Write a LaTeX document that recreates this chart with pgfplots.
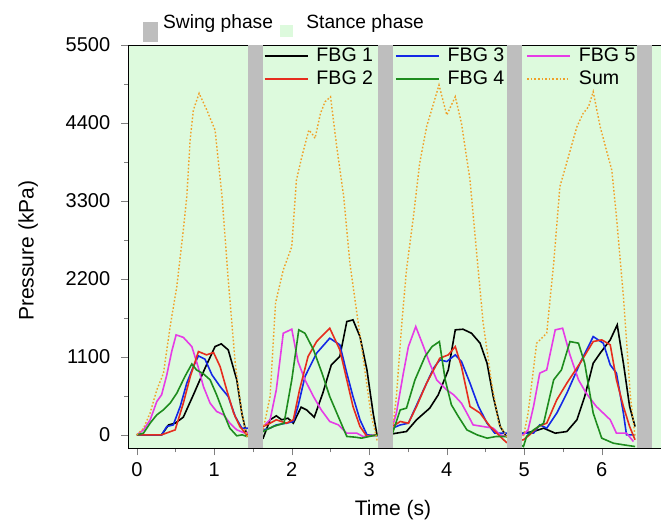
\documentclass[border=0pt]{standalone}
\usepackage{fontspec}
\setmainfont{Liberation Sans}
\usepackage{pgfplots}
\pgfplotsset{compat=1.18}

\definecolor{stancegreen}{RGB}{221,250,221}
\definecolor{swinggray}{RGB}{190,190,190}
\definecolor{fbgblue}{RGB}{20,40,230}
\definecolor{fbgred}{RGB}{230,45,30}
\definecolor{fbggreen}{RGB}{30,140,30}
\definecolor{fbgmag}{RGB}{230,60,230}
\definecolor{sumorange}{RGB}{240,160,40}

\begin{document}
\begin{tikzpicture}
\begin{axis}[
  scale only axis,
  width=266.35pt, height=201.65pt,
  xmin=-0.11, xmax=6.765,
  ymin=-190, ymax=5500,
  axis background/.style={fill=stancegreen},
  axis y line*=left,
  xtick pos=left,
  tick align=outside,
  major tick length=3.5pt, minor tick length=2pt,
  xtick={0,...,6}, minor x tick num=1,
  ytick={0,1100,2200,3300,4400,5500}, minor y tick num=1,
  /pgf/number format/assume math mode=true,
  /pgf/number format/1000 sep={},
  tick label style={font=\fontsize{10}{12}\selectfont},
  yticklabel style={xshift=-2pt},
  label style={font=\fontsize{10.5}{12}\selectfont},
  xlabel={Time (s)}, ylabel={Pressure (kPa)},
  xlabel style={at={(axis description cs:0.497,0)}, anchor=center, yshift=-31pt},
  ylabel style={at={(axis description cs:-0.1877,0.49)}, anchor=center},
  legend columns=3,
  legend cell align=left,
  legend image code/.code={\draw[#1, line width=0.8pt] (0pt,0pt) -- (21.5pt,0pt);},
  legend style={draw=none, fill=none, at={(rel axis cs:0.25,1.0)}, anchor=north west, yshift=1.75pt,
    font=\fontsize{9.8}{12}\selectfont, inner sep=1pt, row sep=-1pt,
    /tikz/every odd column/.append style={column sep=2pt},
    /tikz/every even column/.append style={column sep=9pt}},
  every axis plot/.append style={line width=0.8pt},
]
% FBG 1
\addplot[black] coordinates {
 (0,0) (0.32,0) (0.41,140) (0.495,164) (0.6,249) (0.73,564) (0.88,940) (1.01,1246) (1.09,1283) (1.18,1198) (1.29,776) (1.355,306) (1.42,-14)
 (1.63,-47) (1.72,212) (1.8,268) (1.87,212) (1.95,235) (2.02,164) (2.12,390) (2.19,352) (2.29,249) (2.4,587) (2.51,987) (2.62,1105) (2.71,1598) (2.79,1622) (2.88,1386) (2.97,916) (3.05,306) (3.1,0)
 (3.30,14) (3.48,47) (3.61,212) (3.78,376) (3.89,564) (4.02,916) (4.11,1481) (4.21,1490) (4.32,1433) (4.43,1293) (4.52,1010) (4.6,540) (4.69,117) (4.77,-23)
 (4.99,23) (5.12,47) (5.25,94) (5.4,23) (5.55,47) (5.68,212) (5.78,540) (5.89,1010) (5.98,1152) (6.11,1340) (6.2,1551) (6.28,1010) (6.36,400) (6.43,117)
};
\addlegendentry{FBG 1}
% FBG 3
\addplot[fbgblue] coordinates {
 (0,0) (0.32,0) (0.387,117) (0.47,140) (0.56,400) (0.645,729) (0.73,963) (0.795,1114) (0.88,1067) (0.97,846) (1.075,681) (1.18,540) (1.27,258) (1.355,94) (1.42,94)
 (1.63,70) (1.72,94) (1.8,140) (1.93,164) (2.02,188) (2.08,400) (2.17,822) (2.32,1152) (2.49,1363) (2.62,1270) (2.71,870) (2.79,540) (2.88,212) (2.97,0) (3.1,-14)
 (3.30,94) (3.40,140) (3.505,164) (3.70,634) (3.83,940) (3.91,1057) (4.0,1034) (4.11,1128) (4.19,1034) (4.3,729) (4.41,400) (4.52,164) (4.62,23) (4.77,23)
 (4.99,23) (5.12,23) (5.2,140) (5.29,94) (5.42,306) (5.55,587) (5.72,1010) (5.89,1386) (6.02,1293) (6.11,987) (6.19,870) (6.28,306) (6.32,0) (6.43,0)
};
\addlegendentry{FBG 3}
% FBG 5
\addplot[fbgmag] coordinates {
 (0,0) (0.086,70) (0.172,210) (0.258,470) (0.32,565) (0.387,845) (0.45,1175) (0.507,1410) (0.6,1375) (0.71,1245) (0.79,963) (0.86,680) (0.946,446) (1.03,330) (1.12,282) (1.2,165) (1.29,70) (1.40,23)
 (1.63,117) (1.72,212) (1.8,634) (1.89,1433) (2.0,1490) (2.08,1034) (2.17,776) (2.28,540) (2.38,352) (2.49,188) (2.6,141) (2.71,23) (2.84,23) (2.92,-23) (3.01,-14) (3.1,0)
 (3.30,117) (3.35,306) (3.44,870) (3.505,1245) (3.60,1527) (3.70,1245) (3.78,1010) (3.87,776) (4.0,634) (4.09,564) (4.19,446) (4.26,306) (4.34,140) (4.47,117) (4.6,94) (4.69,0) (4.77,-23)
 (4.99,0) (5.05,70) (5.12,400) (5.2,870) (5.29,916) (5.4,1481) (5.495,1504) (5.59,1128) (5.7,776) (5.8,587) (5.93,400) (6.02,306) (6.11,212) (6.19,23) (6.32,23) (6.41,-94)
};
\addlegendentry{FBG 5}
% FBG 2
\addplot[fbgred] coordinates {
 (0,0) (0.32,0) (0.495,70) (0.6,446) (0.69,822) (0.795,1175) (0.9,1128) (0.99,1161) (1.075,963) (1.16,634) (1.25,306) (1.33,117) (1.42,0)
 (1.63,117) (1.72,164) (1.8,212) (1.93,164) (2.02,212) (2.1,634) (2.21,1105) (2.32,1316) (2.49,1504) (2.62,1200) (2.71,776) (2.79,400) (2.88,117) (2.97,-23) (3.1,0)
 (3.30,117) (3.40,188) (3.505,164) (3.61,400) (3.74,729) (3.91,1081) (4.02,1128) (4.11,1245) (4.19,963) (4.3,400) (4.43,306) (4.56,117) (4.69,-23) (4.77,-108)
 (4.99,-70) (5.07,0) (5.18,117) (5.29,164) (5.42,494) (5.55,729) (5.72,1010) (5.89,1316) (6.0,1340) (6.11,1270) (6.19,776) (6.28,400) (6.36,117) (6.43,-70)
};
\addlegendentry{FBG 2}
% FBG 4
\addplot[fbggreen] coordinates {
 (0,0) (0.086,23) (0.172,165) (0.258,282) (0.34,350) (0.43,446) (0.516,587) (0.62,822) (0.71,1000) (0.77,916) (0.86,860) (0.946,776) (1.03,564) (1.12,306) (1.2,94) (1.29,-14) (1.36,0) (1.42,-23)
 (1.63,47) (1.76,117) (1.9,164) (2.0,776) (2.09,1481) (2.17,1433) (2.28,1200) (2.39,870) (2.49,540) (2.6,258) (2.71,-23) (2.82,-33) (2.9,-47) (3.0,-23) (3.1,0)
 (3.30,23) (3.40,352) (3.48,376) (3.59,776) (3.72,1105) (3.81,1245) (3.905,1316) (3.98,776) (4.06,423) (4.15,258) (4.26,70) (4.39,0) (4.52,-47) (4.64,-23) (4.77,-23)
 (4.99,-165) (5.03,-23) (5.12,70) (5.25,164) (5.38,776) (5.48,916) (5.59,1316) (5.7,1293) (5.78,1010) (5.89,306) (6.0,-47) (6.15,-118) (6.28,-141) (6.43,-165)
};
\addlegendentry{FBG 4}
% Sum
\addplot[sumorange, densely dotted, line width=0.7pt] coordinates {
 (0,0) (0.086,92) (0.17,303) (0.258,634) (0.344,869) (0.43,1527) (0.516,2091) (0.6,2890) (0.645,3360) (0.688,4160) (0.73,4583) (0.804,4818) (0.903,4583) (1.01,4300) (1.1,3360) (1.18,2185) (1.27,1010) (1.355,303) (1.42,-18)
 (1.63,70) (1.72,540) (1.79,1858) (1.89,2326) (2.0,2655) (2.06,3595) (2.13,3924) (2.22,4300) (2.26,4253) (2.3,4183) (2.37,4535) (2.43,4700) (2.5,4770) (2.58,4065) (2.67,3360) (2.75,2420) (2.84,1715) (2.93,1010) (3.02,303) (3.1,-70)
 (3.29,-22) (3.35,540) (3.42,1575) (3.48,2326) (3.57,3078) (3.65,3830) (3.74,4347) (3.83,4677) (3.9,4935) (4.0,4512) (4.11,4770) (4.19,4394) (4.3,3595) (4.39,2514) (4.47,1575) (4.58,729) (4.67,165) (4.77,-22)
 (4.99,-22) (5.05,306) (5.16,1293) (5.29,1434) (5.38,2420) (5.46,3501) (5.57,3924) (5.68,4347) (5.76,4535) (5.83,4630) (5.89,4841) (5.98,4347) (6.06,4018) (6.13,3736) (6.19,3078) (6.28,1950) (6.37,540) (6.43,-22)
};
\addlegendentry{Sum}
% swing phases
\addplot[fill=swinggray, draw=none, forget plot] coordinates {(1.43,-190) (1.63,-190) (1.63,5500) (1.43,5500)} --cycle;
\addplot[fill=swinggray, draw=none, forget plot] coordinates {(3.11,-190) (3.30,-190) (3.30,5500) (3.11,5500)} --cycle;
\addplot[fill=swinggray, draw=none, forget plot] coordinates {(4.78,-190) (4.97,-190) (4.97,5500) (4.78,5500)} --cycle;
\addplot[fill=swinggray, draw=none, forget plot] coordinates {(6.45,-190) (6.65,-190) (6.65,5500) (6.45,5500)} --cycle;
\coordinate (nw) at (rel axis cs:0,1);
\coordinate (sw) at (rel axis cs:0,0);
\end{axis}
% phase key above the axis
\fill[swinggray] ([shift={(7.5pt,1.65pt)}]nw) rectangle ([shift={(15pt,11.65pt)}]nw);
\node[anchor=base west, inner sep=0pt, font=\fontsize{9.6}{12}\selectfont] at ([shift={(17.2pt,8.35pt)}]nw) {Swing phase};
\fill[stancegreen] ([shift={(75.85pt,4.15pt)}]nw) rectangle ([shift={(82.2pt,10pt)}]nw);
\node[anchor=base west, inner sep=0pt, font=\fontsize{9.6}{12}\selectfont] at ([shift={(88.85pt,8.35pt)}]nw) {Stance phase};
\pgfresetboundingbox
\path ([shift={(-64.15pt,-37.85pt)}]sw) rectangle ([shift={(266.35pt,224.15pt)}]sw);
\end{tikzpicture}
\end{document}
